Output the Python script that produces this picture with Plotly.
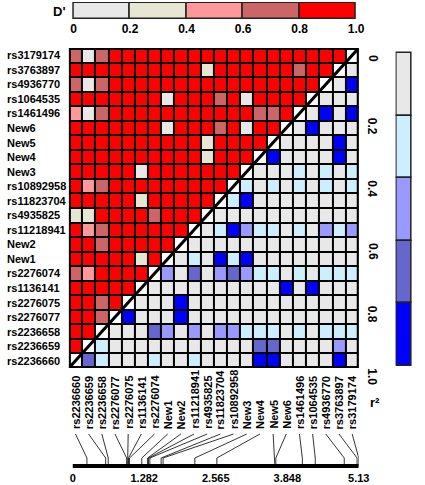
import plotly.graph_objects as go

W, H = 425, 485

# SNPs, left-to-right order of the matrix columns (and along the physical map)
snps = ["rs2236660", "rs2236659", "rs2236658", "rs2276077", "rs2276075", "rs1136141",
        "rs2276074", "New1", "New2", "rs11218941", "rs4935825", "rs11823704",
        "rs10892958", "New3", "New4", "New5", "New6", "rs1461496", "rs1064535",
        "rs4936770", "rs3763897", "rs3179174"]
# physical position of each SNP on the map (kb)
positions = [0.254, 0.59, 0.636, 0.966, 0.983, 1.0, 1.018, 1.238, 1.342, 1.359, 1.383,
             1.585, 1.62, 2.19, 2.585, 3.626, 3.643, 4.118, 4.35, 4.87, 5.10, 5.13]
map_ticks = [0, 1.282, 2.565, 3.848, 5.13]
map_ticktext = ["0", "1.282", "2.565", "3.848", "5.13"]

# D' (upper-left triangle). Row i from top (rs3179174) to bottom (rs2236660),
# values for columns j = 0 .. 20-i
dprime_rows = [
    [.7, .1, .7] + [1] * 18,
    [1] * 10 + [.3] + [1] * 6 + [.7, 1, 1],
    [.7, .1, .7] + [1] * 16,
    [1] * 7 + [.1] + [1] * 3 + [.7] + [1] + [.1] + [1] * 4,
    [.5, .1, .7] + [1] * 11 + [.7, .7] + [1],
    [1] * 7 + [.1] + [1] * 3 + [.7] + [1] + [.1] + [1] * 2,
    [1] * 10 + [.3] + [1] * 4,
    [1] * 10 + [.3] + [1] * 3,
    [1] * 5 + [.1] + [1] * 7,
    [1, .5, .7] + [1] * 9,
    [1] * 5 + [.3] + [1] * 5,
    [.3, .3] + [1] * 4 + [.7] + [1] * 3,
    [1, .5, .7] + [1] * 6,
    [1, 1, .7] + [1] * 5,
    [1] * 5 + [.3] + [1],
    [.7, .5] + [1] * 4,
    [1] * 5,
    [1, 1, .7, 1],
    [1, 1, .7],
    [1, 1],
    [1],
    [],
]

# r^2 (lower-right triangle). Row i, values for columns j = 22-i .. 21
r2_rows = [
    [],
    [.1],
    [.1, .9],
    [.1, .1, .1],
    [.1, .9, .1, .9],
    [.1, .9, .1, .1, .1],
    [.1] + [.1, .1, .1, .9, .1],
    [.9, .1] + [.1, .1, .1, .9, .1],
    [.1, .1, .1] + [.3, .1, .3, .1, .3],
    [.3, .1, .3, .1] + [.3, .1, .3, .1, .3],
    [.3, .9, .1, .1, .1] + [.1] * 5,
    [.1] * 6 + [.1] * 5,
    [.1, .3, .9, .5, .3, .3, .1] + [.3, .1, .5, .3, .5],
    [.1] * 8 + [.1] * 5,
    [.1, .3, .1, .9, .3, .9, .1, .1, .1] + [.1] * 5,
    [.5, .1, .7, .1, .5, .7, .5, .3, .3, .1] + [.3, .1, .3, .3, .3],
    [.1] * 10 + [.9] + [.1, .9, .1, .1, .1],
    [.1, .1, .1, .9] + [.1] * 8 + [.1] * 5,
    [.9, .1, .1, .1, .9] + [.1] * 8 + [.1] * 5,
    [.1, .1, .1, .7, .5, .1, .5, .1, .5, .5, .3, .3, .3, .1] + [.3, .1, .3, .3, .3],
    [.3] + [.1] * 11 + [.7, .7, .1] + [.1, .1, .1, .5, .1],
    [.7, .3, .1, .1, .1, .3, .1, .1, .3, .1, .1, .1, .1, .9, .9, .1] + [.1, .1, .1, .9, .1],
]

legend_bins = [0.1, 0.3, 0.5, 0.7, 0.9]
legend_edges = [0, 0.2, 0.4, 0.6, 0.8, 1.0]
legend_text = ["0", "0.2", "0.4", "0.6", "0.8", "1.0"]

dprime_colors = ["#E8E8E8", "#E6E6D3", "#FF9999", "#CC6666", "#FF0000"]
r2_colors = ["#E8E8E8", "#CCEEFF", "#9999FF", "#6666CC", "#0000FF"]

FONT = "Liberation Sans, Arial, sans-serif"
n = len(snps)


def discrete_scale(colors):
    cs = []
    k = len(colors)
    for i, c in enumerate(colors):
        cs.append([i / k, c])
        cs.append([(i + 1) / k, c])
    return cs


zD = [[None] * n for _ in range(n)]
zR = [[None] * n for _ in range(n)]
zDiag = [[None] * n for _ in range(n)]
for i in range(n):
    for j, v in enumerate(dprime_rows[i]):
        zD[i][j] = v
    start = n - i
    for k, v in enumerate(r2_rows[i]):
        zR[i][start + k] = v
    zDiag[i][n - 1 - i] = 1

fig = go.Figure()

px = lambda p: p / W
py = lambda p: 1 - p / H

# matrix axes
mx0, mx1, my0, my1 = 69, 368, 48, 368
fig.update_layout(
    xaxis=dict(domain=[px(mx0), px(mx1)], range=[-0.5, n - 0.5], visible=False, fixedrange=True),
    yaxis=dict(domain=[py(my1), py(my0)], range=[n - 0.5, -0.5], visible=False, fixedrange=True),
)

fig.add_shape(type="rect", xref="x", yref="y", x0=-0.5, x1=n - 0.5, y0=-0.5, y1=n - 0.5,
              fillcolor="black", line=dict(width=0), layer="below")

common = dict(x=list(range(n)), y=list(range(n)), xgap=2, ygap=2, showscale=False,
              zmin=0, zmax=1, hoverinfo="skip")
fig.add_trace(go.Heatmap(z=zD, colorscale=discrete_scale(dprime_colors), **common))
fig.add_trace(go.Heatmap(z=zR, colorscale=discrete_scale(r2_colors), **common))
fig.add_trace(go.Heatmap(z=zDiag, colorscale=[[0, "white"], [1, "white"]], **common))

fig.add_trace(go.Scatter(x=[-0.5, n - 0.5], y=[n - 0.5, -0.5], mode="lines",
                         line=dict(color="black", width=3), hoverinfo="skip"))
fig.add_shape(type="rect", xref="x", yref="y", x0=-0.5, x1=n - 0.5, y0=-0.5, y1=n - 0.5,
              line=dict(color="black", width=4), layer="above")

# row labels (rows listed top to bottom = reverse of column order)
for i in range(n):
    fig.add_annotation(x=px(3), xref="paper", xanchor="left", y=i, yref="y",
                       yanchor="middle", text=snps[n - 1 - i], showarrow=False,
                       font=dict(family=FONT, size=11, color="black", weight="bold"))

# column labels
for j in range(n):
    fig.add_annotation(x=j, xref="x", y=py(431), yref="paper", yanchor="bottom",
                       xanchor="center", textangle=-90, text=snps[j], showarrow=False,
                       font=dict(family=FONT, size=11, color="black", weight="bold"))

# physical map strip
mapx0 = -map_ticks[-1] * 4 / 295
fig.update_layout(
    xaxis2=dict(domain=[px(mx0), px(mx1)], range=[mapx0, map_ticks[-1]], anchor="y2",
                showgrid=False, zeroline=False, showline=False, ticks="",
                tickvals=map_ticks, ticktext=map_ticktext, fixedrange=True,
                tickfont=dict(family=FONT, size=11, color="black", weight="bold")),
    yaxis2=dict(domain=[py(470), py(428)], range=[470, 428], anchor="x2", visible=False,
                fixedrange=True),
)
cx, cy = [], []
for j in range(n):
    colv = mapx0 + (j + 0.5) / n * (map_ticks[-1] - mapx0)
    cx += [colv, positions[j], positions[j], None]
    cy += [434, 458, 466, None]
fig.add_trace(go.Scatter(x=cx, y=cy, xaxis="x2", yaxis="y2", mode="lines",
                         line=dict(color="black", width=0.8), hoverinfo="skip"))
fig.add_trace(go.Scatter(x=[map_ticks[0], map_ticks[-1]], y=[466, 466], xaxis="x2", yaxis="y2",
                         mode="lines", line=dict(color="black", width=4), hoverinfo="skip"))

# D' legend (top)
fig.update_layout(
    xaxis3=dict(domain=[px(72), px(367)], range=[-0.006, 1.006], anchor="y3",
                showgrid=False, zeroline=False, ticks="", tickvals=legend_edges,
                ticktext=legend_text, fixedrange=True,
                tickfont=dict(family=FONT, size=12, color="black", weight="bold")),
    yaxis3=dict(domain=[py(20), py(2)], range=[-0.05, 1.05], anchor="x3", visible=False,
                fixedrange=True),
)
fig.add_trace(go.Bar(x=legend_bins, y=[1] * 5, width=0.2, xaxis="x3", yaxis="y3",
                     marker=dict(color=dprime_colors, line=dict(color="#222222", width=1.5)),
                     hoverinfo="skip"))
fig.add_annotation(x=px(67), xref="paper", xanchor="right", y=py(11), yref="paper",
                   yanchor="middle", text="D'", showarrow=False,
                   font=dict(family=FONT, size=13, color="black", weight="bold"))

# r^2 legend (right)
fig.update_layout(
    xaxis4=dict(domain=[px(406), px(423)], range=[-0.55, 0.55], anchor="y4", visible=False,
                fixedrange=True),
    yaxis4=dict(domain=[py(368), py(51)], range=[1.006, -0.006], anchor="x4", visible=False,
                fixedrange=True),
)
fig.add_trace(go.Bar(x=[0] * 5, y=[0.2] * 5, base=legend_edges[:-1], width=1, xaxis="x4",
                     yaxis="y4",
                     marker=dict(color=r2_colors, line=dict(color="#222222", width=1.5)),
                     hoverinfo="skip"))
for v, t in zip(legend_edges, legend_text):
    fig.add_annotation(x=px(382), xref="paper", xanchor="center", y=v, yref="y4",
                       yanchor="top", textangle=90, text=t, showarrow=False,
                       font=dict(family=FONT, size=12, color="black", weight="bold"))
fig.add_annotation(x=px(385), xref="paper", xanchor="center", y=py(402), yref="paper",
                   yanchor="middle", textangle=0, text="r²", showarrow=False,
                   font=dict(family=FONT, size=13, color="black", weight="bold"))

fig.update_layout(width=W, height=H, margin=dict(l=0, r=0, t=0, b=0),
                  paper_bgcolor="white", plot_bgcolor="rgba(0,0,0,0)",
                  showlegend=False, bargap=0)

fig.write_html("out.html", config={"displayModeBar": False},
               post_script="document.body.style.margin='0px';")
